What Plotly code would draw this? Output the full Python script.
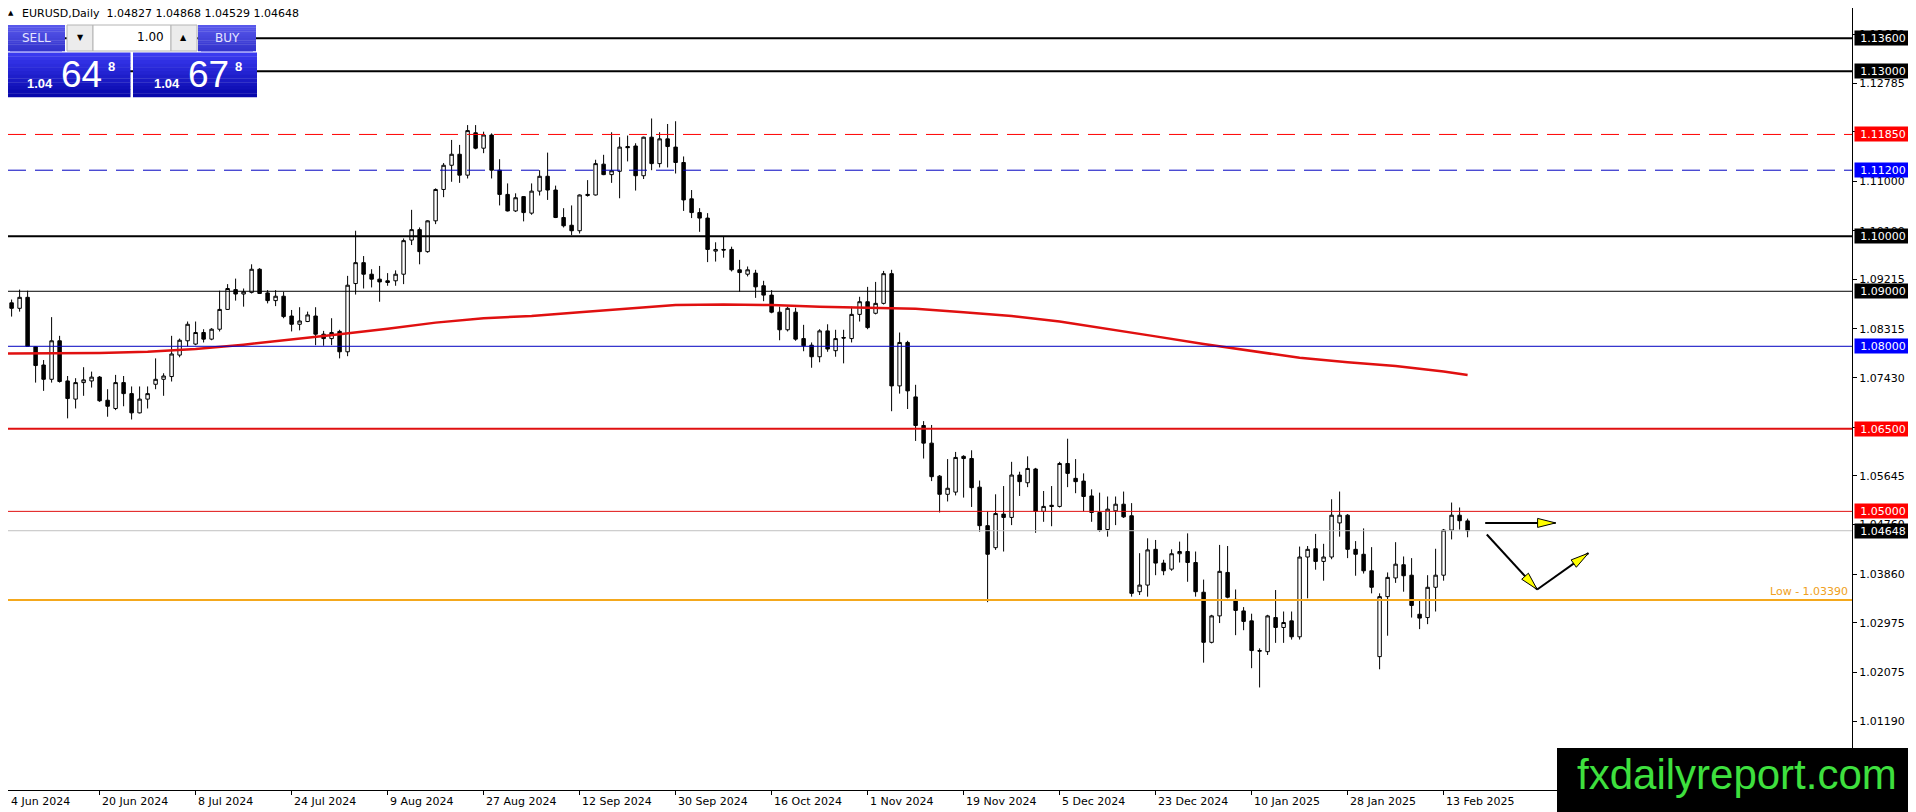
import pandas as pd
import plotly.graph_objects as go

# EURUSD daily candles, 4 Jun 2024 - 18 Feb 2025
opens = [1.0913, 1.0879, 1.0869, 1.0889, 1.0799, 1.0766, 1.0740, 1.0810, 1.0737, 1.0704,
         1.0734, 1.0737, 1.0744, 1.0702, 1.0687, 1.0734, 1.0714, 1.0679, 1.0704, 1.0731,
         1.0740, 1.0745, 1.0784, 1.0810, 1.0804, 1.0825, 1.0813, 1.0831, 1.0867, 1.0903,
         1.0895, 1.0898, 1.0940, 1.0897, 1.0883, 1.0891, 1.0855, 1.0840, 1.0845, 1.0855,
         1.0822, 1.0814, 1.0827, 1.0790, 1.0914, 1.0952, 1.0931, 1.0922, 1.0919, 1.0919,
         1.0931, 1.0993, 1.1012, 1.0972, 1.1028, 1.1085, 1.1129, 1.1149, 1.1111, 1.1188,
         1.1160, 1.1184, 1.1120, 1.1076, 1.1046, 1.1072, 1.1042, 1.1082, 1.1109, 1.1084,
         1.1034, 1.1020, 1.1010, 1.1074, 1.1075, 1.1131, 1.1112, 1.1118, 1.1163, 1.1164,
         1.1110, 1.1180, 1.1132, 1.1177, 1.1162, 1.1134, 1.1068, 1.1043, 1.1033, 1.0973,
         1.0976, 1.0976, 1.0939, 1.0931, 1.0933, 1.0910, 1.0893, 1.0862, 1.0830, 1.0862,
         1.0814, 1.0802, 1.0781, 1.0828, 1.0792, 1.0816, 1.0814, 1.0858, 1.0881, 1.0860,
         1.0878, 1.0932, 1.0728, 1.0807, 1.0708, 1.0656, 1.0624, 1.0564, 1.0531, 1.0535,
         1.0600, 1.0596, 1.0544, 1.0474, 1.0434, 1.0495, 1.0489, 1.0566, 1.0552, 1.0577,
         1.0500, 1.0511, 1.0509, 1.0587, 1.0560, 1.0555, 1.0528, 1.0498, 1.0467, 1.0501,
         1.0513, 1.0492, 1.0354, 1.0366, 1.0431, 1.0406, 1.0395, 1.0423, 1.0427, 1.0407,
         1.0353, 1.0262, 1.0310, 1.0389, 1.0340, 1.0319, 1.0301, 1.0247, 1.0245, 1.0307,
         1.0289, 1.0301, 1.0272, 1.0417, 1.0432, 1.0409, 1.0417, 1.0479, 1.0493, 1.0431,
         1.0422, 1.0392, 1.0236, 1.0345, 1.0379, 1.0403, 1.0384, 1.0313, 1.0307, 1.0362,
         1.0384, 1.0466, 1.0493, 1.04827]
highs = [1.0916, 1.0885, 1.0903, 1.0901, 1.0800, 1.0775, 1.0853, 1.0819, 1.0746, 1.0742,
         1.0762, 1.0754, 1.0746, 1.0722, 1.0748, 1.0746, 1.0727, 1.0727, 1.0727, 1.0778,
         1.0751, 1.0819, 1.0814, 1.0845, 1.0845, 1.0831, 1.0833, 1.0901, 1.0913, 1.0923,
         1.0905, 1.0949, 1.0942, 1.0902, 1.0902, 1.0899, 1.0866, 1.0871, 1.0863, 1.0871,
         1.0828, 1.0851, 1.0830, 1.0928, 1.1010, 1.0964, 1.0940, 1.0946, 1.0933, 1.0938,
         1.0996, 1.1048, 1.1016, 1.1029, 1.1087, 1.1133, 1.1175, 1.1166, 1.1202, 1.1202,
         1.1190, 1.1187, 1.1140, 1.1096, 1.1078, 1.1073, 1.1096, 1.1120, 1.1152, 1.1092,
         1.1051, 1.1056, 1.1076, 1.1102, 1.1139, 1.1148, 1.1189, 1.1180, 1.1183, 1.1169,
         1.1181, 1.1214, 1.1189, 1.1204, 1.1209, 1.1145, 1.1084, 1.1051, 1.1042, 1.0989,
         1.1000, 1.0981, 1.0957, 1.0945, 1.0939, 1.0919, 1.0902, 1.0872, 1.0872, 1.0870,
         1.0839, 1.0807, 1.0831, 1.0840, 1.0830, 1.0830, 1.0872, 1.0890, 1.0908, 1.0917,
         1.0937, 1.0939, 1.0825, 1.0810, 1.0730, 1.0664, 1.0657, 1.0566, 1.0595, 1.0608,
         1.0602, 1.0611, 1.0556, 1.0500, 1.0531, 1.0546, 1.0590, 1.0572, 1.0600, 1.0579,
         1.0537, 1.0546, 1.0590, 1.0632, 1.0595, 1.0569, 1.0540, 1.0534, 1.0527, 1.0527,
         1.0536, 1.0515, 1.0424, 1.0451, 1.0448, 1.0412, 1.0431, 1.0445, 1.0460, 1.0427,
         1.0376, 1.0312, 1.0439, 1.0437, 1.0358, 1.0326, 1.0314, 1.0251, 1.0312, 1.0357,
         1.0318, 1.0318, 1.0436, 1.0437, 1.0459, 1.0441, 1.0522, 1.0536, 1.0495, 1.0446,
         1.0469, 1.0435, 1.0351, 1.0389, 1.0444, 1.0418, 1.0415, 1.0339, 1.0384, 1.0432,
         1.0468, 1.0516, 1.0507, 1.04868]
lows = [1.0860, 1.0854, 1.0863, 1.0800, 1.0734, 1.0719, 1.0734, 1.0734, 1.0669, 1.0687,
        1.0710, 1.0725, 1.0699, 1.0672, 1.0684, 1.0691, 1.0667, 1.0678, 1.0687, 1.0722,
        1.0710, 1.0736, 1.0780, 1.0800, 1.0802, 1.0807, 1.0811, 1.0827, 1.0866, 1.0883,
        1.0872, 1.0896, 1.0895, 1.0878, 1.0873, 1.0851, 1.0827, 1.0829, 1.0844, 1.0802,
        1.0801, 1.0802, 1.0778, 1.0782, 1.0894, 1.0905, 1.0907, 1.0881, 1.0910, 1.0910,
        1.0913, 1.0984, 1.0949, 1.0970, 1.1022, 1.1071, 1.1099, 1.1097, 1.1105, 1.1158,
        1.1151, 1.1105, 1.1056, 1.1045, 1.1044, 1.1027, 1.1039, 1.1074, 1.1066, 1.1033,
        1.1016, 1.1002, 1.1005, 1.1072, 1.1074, 1.1111, 1.1097, 1.1069, 1.1136, 1.1083,
        1.1104, 1.1120, 1.1125, 1.1125, 1.1114, 1.1046, 1.1033, 1.1008, 1.0953, 1.0954,
        1.0961, 1.0936, 1.0899, 1.0927, 1.0888, 1.0882, 1.0860, 1.0811, 1.0827, 1.0810,
        1.0791, 1.0761, 1.0771, 1.0790, 1.0781, 1.0769, 1.0807, 1.0845, 1.0831, 1.0858,
        1.0876, 1.0682, 1.0714, 1.0686, 1.0628, 1.0596, 1.0555, 1.0498, 1.0518, 1.0529,
        1.0525, 1.0508, 1.0463, 1.0335, 1.0430, 1.0427, 1.0475, 1.0528, 1.0544, 1.0461,
        1.0481, 1.0473, 1.0507, 1.0544, 1.0533, 1.0500, 1.0481, 1.0463, 1.0454, 1.0475,
        1.0488, 1.0345, 1.0348, 1.0345, 1.0384, 1.0384, 1.0392, 1.0407, 1.0372, 1.0345,
        1.0225, 1.0260, 1.0297, 1.0342, 1.0275, 1.0284, 1.0215, 1.0180, 1.0239, 1.0261,
        1.0261, 1.0267, 1.0267, 1.0342, 1.0394, 1.0374, 1.0413, 1.0454, 1.0415, 1.0383,
        1.0387, 1.0351, 1.0213, 1.0274, 1.0370, 1.0354, 1.0307, 1.0286, 1.0295, 1.0318,
        1.0374, 1.0449, 1.0467, 1.04529]
closes = [1.0879, 1.0869, 1.0889, 1.0800, 1.0765, 1.0740, 1.0810, 1.0736, 1.0705, 1.0734,
          1.0739, 1.0744, 1.0701, 1.0691, 1.0734, 1.0714, 1.0679, 1.0704, 1.0714, 1.0740,
          1.0746, 1.0786, 1.0811, 1.0840, 1.0825, 1.0813, 1.0831, 1.0867, 1.0905, 1.0895,
          1.0899, 1.0940, 1.0896, 1.0883, 1.0891, 1.0854, 1.0840, 1.0846, 1.0857, 1.0822,
          1.0814, 1.0825, 1.0790, 1.0911, 1.0952, 1.0931, 1.0922, 1.0917, 1.0916, 1.0931,
          1.0992, 1.1012, 1.0972, 1.1028, 1.1085, 1.1129, 1.1149, 1.1111, 1.1192, 1.1160,
          1.1184, 1.1120, 1.1076, 1.1046, 1.1070, 1.1043, 1.1082, 1.1109, 1.1084, 1.1034,
          1.1019, 1.1010, 1.1075, 1.1076, 1.1132, 1.1112, 1.1119, 1.1162, 1.1161, 1.1110,
          1.1180, 1.1132, 1.1177, 1.1163, 1.1134, 1.1066, 1.1043, 1.1033, 1.0976, 1.0976,
          1.0975, 1.0939, 1.0934, 1.0939, 1.0908, 1.0893, 1.0862, 1.0830, 1.0869, 1.0813,
          1.0801, 1.0781, 1.0828, 1.0795, 1.0814, 1.0815, 1.0858, 1.0881, 1.0834, 1.0878,
          1.0932, 1.0728, 1.0807, 1.0719, 1.0656, 1.0624, 1.0563, 1.0531, 1.0542, 1.0598,
          1.0596, 1.0543, 1.0474, 1.0422, 1.0496, 1.0489, 1.0566, 1.0554, 1.0578, 1.0500,
          1.0509, 1.0509, 1.0587, 1.0569, 1.0554, 1.0527, 1.0498, 1.0466, 1.0504, 1.0513,
          1.0490, 1.0351, 1.0366, 1.0430, 1.0406, 1.0392, 1.0423, 1.0427, 1.0407, 1.0354,
          1.0262, 1.0310, 1.0391, 1.0344, 1.0320, 1.0300, 1.0247, 1.0246, 1.0310, 1.0289,
          1.0298, 1.0272, 1.0417, 1.0431, 1.0409, 1.0417, 1.0493, 1.0493, 1.0431, 1.0422,
          1.0392, 1.0362, 1.0345, 1.0380, 1.0404, 1.0383, 1.0329, 1.0306, 1.0362, 1.0384,
          1.0466, 1.0493, 1.0483, 1.04648]

# moving average (red curve), sampled every 6 bars
ma_idx = [0, 6, 12, 18, 24, 30, 36, 42, 48, 54, 60, 66, 72, 78, 84, 90, 96, 102, 108, 114,
          120, 126, 132, 138, 144, 150, 156, 162, 168, 174, 180, 183]
ma_val = [1.0787, 1.0787, 1.0788, 1.0790, 1.0795, 1.0803, 1.0812, 1.0822, 1.0832, 1.0843,
          1.0851, 1.0855, 1.0862, 1.0869, 1.0875, 1.0876, 1.0875, 1.0872, 1.0870, 1.0868,
          1.0862, 1.0855, 1.0845, 1.0832, 1.0818, 1.0804, 1.0791, 1.0779, 1.0771, 1.0764,
          1.0754, 1.0748]

# horizontal levels: (price, line colour, width, dash, label colour or None)
levels = [
    (1.13600, "black", 2, "solid", "black"),
    (1.13000, "black", 2, "solid", "black"),
    (1.11850, "red", 1, "18px,9px", "#ff0000"),
    (1.11200, "#0000c0", 1, "18px,9px", "#0000ff"),
    (1.10000, "black", 2, "solid", "black"),
    (1.09000, "black", 1, "solid", "black"),
    (1.08000, "#0000c0", 1, "solid", "#0000ff"),
    (1.06500, "#e01010", 2, "solid", "#ff0000"),
    (1.05000, "#e01010", 1, "solid", "#ff0000"),
    (1.04648, "#c0c0c0", 1, "solid", "black"),
    (1.03390, "#f4a81d", 2, "solid", None),
]
low_level = 1.03390

price_ticks = [1.01190, 1.02075, 1.02975, 1.03860, 1.04760, 1.05645, 1.06530, 1.07430,
               1.08315, 1.09215, 1.10100, 1.11000, 1.11900, 1.12785, 1.13670]

# hand drawn arrows: (bar from, price from, bar to, price to)
arrows = [(185.2, 1.0479, 194.0, 1.0479),
          (185.4, 1.0458, 191.7, 1.0358),
          (191.7, 1.0358, 198.1, 1.0424)]

dates = pd.bdate_range("2024-06-04", "2025-02-18")
dates = dates[~dates.isin(pd.to_datetime(["2024-12-25", "2025-01-01"]))]
x = dates.strftime("%Y-%m-%d").tolist()
tick_idx = list(range(0, len(x), 12))
tick_pos = [x[i] for i in tick_idx]
tick_txt = [f"{d.day} {d.strftime('%b %Y')}" for d in dates[::12]]

# geometry: the page body adds an 8px margin, so the figure is drawn 8px smaller
# and every position below is given in screen pixels
OFF = 8
FW, FH = 1916 - OFF, 812 - OFF
PL, PT, PR, PB = 8, 8, 1852, 790          # plot box on screen
L, T = PL - OFF, PT - OFF
R, B = FW - (PR - OFF), FH - (PB - OFF)
W, H = PR - PL, PB - PT
X0, X1 = (PL - 3.6) / 8, (PR - 3.6) / 8   # 8px per bar, first bar at x=3.6


def price_at(py):
    return 1.0119 + (721 - py) * 0.00018174


Y0, Y1 = price_at(PB), price_at(PT)
FONT = "DejaVu Sans"


def bar_px(i):
    return PL + (i - X0) / (X1 - X0) * W


def price_px(p):
    return PT + (Y1 - p) / (Y1 - Y0) * H


def pxx(px):
    return (px - PL) / W


def pxy(py):
    return 1 - (py - PT) / H


fig = go.Figure()

fig.add_trace(go.Candlestick(
    x=x, open=opens, high=highs, low=lows, close=closes,
    increasing=dict(line=dict(color="black", width=1), fillcolor="white"),
    decreasing=dict(line=dict(color="black", width=1), fillcolor="black"),
    whiskerwidth=0, hoverinfo="skip", showlegend=False,
))

fig.add_trace(go.Scatter(
    x=[x[i] for i in ma_idx], y=ma_val, mode="lines",
    line=dict(color="#e01010", width=2.5), hoverinfo="skip", showlegend=False,
))

shapes = []
annotations = []

for price, col, wd, dash, lab in levels:
    shapes.append(dict(type="line", xref="paper", yref="y", x0=0, x1=1, y0=price, y1=price,
                       line=dict(color=col, width=wd, dash=dash), layer="above"))
    if lab:
        annotations.append(dict(xref="paper", yref="y", x=1, y=price, xanchor="left",
                                yanchor="middle", xshift=2, text=f"{price:.5f}",
                                showarrow=False, bgcolor=lab, width=56, height=14,
                                borderpad=0, font=dict(family=FONT, size=11, color="white")))

annotations.append(dict(xref="paper", yref="y", x=1, y=low_level, xanchor="right",
                        yanchor="bottom", xshift=-2, yshift=0, text=f"Low - {low_level:.5f}",
                        showarrow=False, font=dict(family=FONT, size=11, color="#f0a020")))

# arrows
for b0, p0, b1, p1 in arrows:
    sx, sy, ex, ey = bar_px(b0), price_px(p0), bar_px(b1), price_px(p1)
    shapes.append(dict(type="line", xref="paper", yref="paper", x0=pxx(sx), y0=pxy(sy),
                       x1=pxx(ex), y1=pxy(ey), line=dict(color="black", width=2), layer="above"))
    dx, dy = ex - sx, ey - sy
    n = (dx * dx + dy * dy) ** 0.5
    ux, uy = dx / n, dy / n
    bx, by = ex - 18 * ux, ey - 18 * uy
    pts = [(ex, ey), (bx - 4.5 * uy, by + 4.5 * ux), (bx + 4.5 * uy, by - 4.5 * ux)]
    path = "M " + " L ".join(f"{pxx(a):.5f},{pxy(b):.5f}" for a, b in pts) + " Z"
    shapes.append(dict(type="path", xref="paper", yref="paper", path=path,
                       fillcolor="#ffff00", line=dict(color="black", width=1), layer="above"))


def box(x0, y0, x1, y1, fill, line=None):
    shapes.append(dict(type="rect", xref="paper", yref="paper", x0=pxx(x0), x1=pxx(x1),
                       y0=pxy(y1), y1=pxy(y0), fillcolor=fill,
                       line=dict(color=line or fill, width=1 if line else 0), layer="above"))


def grad_box(x0, y0, x1, y1, top, bot, n=12):
    for k in range(n):
        t = k / (n - 1)
        c = tuple(int(top[j] + (bot[j] - top[j]) * t) for j in range(3))
        ya = y0 + (y1 - y0) * k / n
        yb = y0 + (y1 - y0) * (k + 1) / n
        box(x0, ya, x1, yb + 0.3, f"rgb{c}")


def label(px, py, text, size, color="white", anchor="center", family=FONT):
    annotations.append(dict(xref="paper", yref="paper", x=pxx(px), y=pxy(py), text=text,
                            showarrow=False, xanchor=anchor, yanchor="middle",
                            font=dict(family=family, size=size, color=color)))


# one-click trading panel
grad_box(7, 25, 65, 51, (88, 88, 235), (52, 52, 205))
grad_box(198, 25, 256, 51, (88, 88, 235), (52, 52, 205))
box(10, 51, 62, 52, "#8c8cf0")
box(201, 51, 253, 52, "#8c8cf0")
box(67, 25, 93, 51, "#ececec", "#b4b4b4")
box(93, 25, 171, 51, "white", "#b4b4b4")
box(171, 25, 197, 51, "#ececec", "#b4b4b4")
grad_box(6, 52.5, 130.5, 97, (58, 58, 240), (8, 8, 172))
grad_box(133, 52.5, 257, 97, (58, 58, 240), (8, 8, 172))

label(36, 38, "SELL", 12, "#e4e4ff")
label(227, 38, "BUY", 12, "#e4e4ff")
label(80, 38, "▼", 8, "black")
label(183, 38, "▲", 8, "black")
label(166, 37, "1.00", 12, "black", "right")
bid, ask = 1.04648, 1.04678
for bx0, pr in [(6, bid), (133, ask)]:
    s = f"{pr:.5f}"
    label(bx0 + 19, 83, f"<b>{s[:4]}</b>", 13, anchor="left", family="Liberation Sans")
    label(bx0 + 53, 75, s[4:6], 37, anchor="left", family="Liberation Sans")
    label(bx0 + 100, 66, f"<b>{s[6]}</b>", 13, anchor="left", family="Liberation Sans")

# header
label(11, 13, "▲", 7, "black")
label(20, 13, "EURUSD,Daily  " + " ".join(f"{v:.5f}" for v in
      (opens[-1], highs[-1], lows[-1], closes[-1])), 11, "black", "left")

# date labels (left aligned at the tick, like the terminal)
for i, txt in zip(tick_idx, tick_txt):
    label(max(bar_px(i), 9), 801, txt, 11, "black", "left")

# watermark
box(1557, 748, 1916, 812, "black")
label(1737, 774, "fxdailyreport.com", 42, "#3ee03e", family="Liberation Sans")

fig.update_layout(
    width=FW, height=FH,
    margin=dict(l=L, r=R, t=T, b=B),
    template="none",
    paper_bgcolor="white", plot_bgcolor="white",
    showlegend=False, hovermode=False,
    boxgap=0.38,
    shapes=shapes, annotations=annotations,
    xaxis=dict(type="category", range=[X0, X1], showgrid=False, zeroline=False,
               showline=True, mirror=True, linecolor="black", linewidth=1,
               ticks="outside", ticklen=4, tickcolor="black", tickvals=tick_pos,
               showticklabels=False, rangeslider=dict(visible=False), automargin=False),
    yaxis=dict(side="right", range=[Y0, Y1], showgrid=False, zeroline=False,
               showline=True, mirror=True, linecolor="black", linewidth=1,
               ticks="outside", ticklen=4, tickcolor="black",
               tickvals=price_ticks, ticktext=[f"{v:.5f}" for v in price_ticks],
               tickfont=dict(family=FONT, size=11, color="black"), automargin=False),
)

fig.write_html("out.html")
